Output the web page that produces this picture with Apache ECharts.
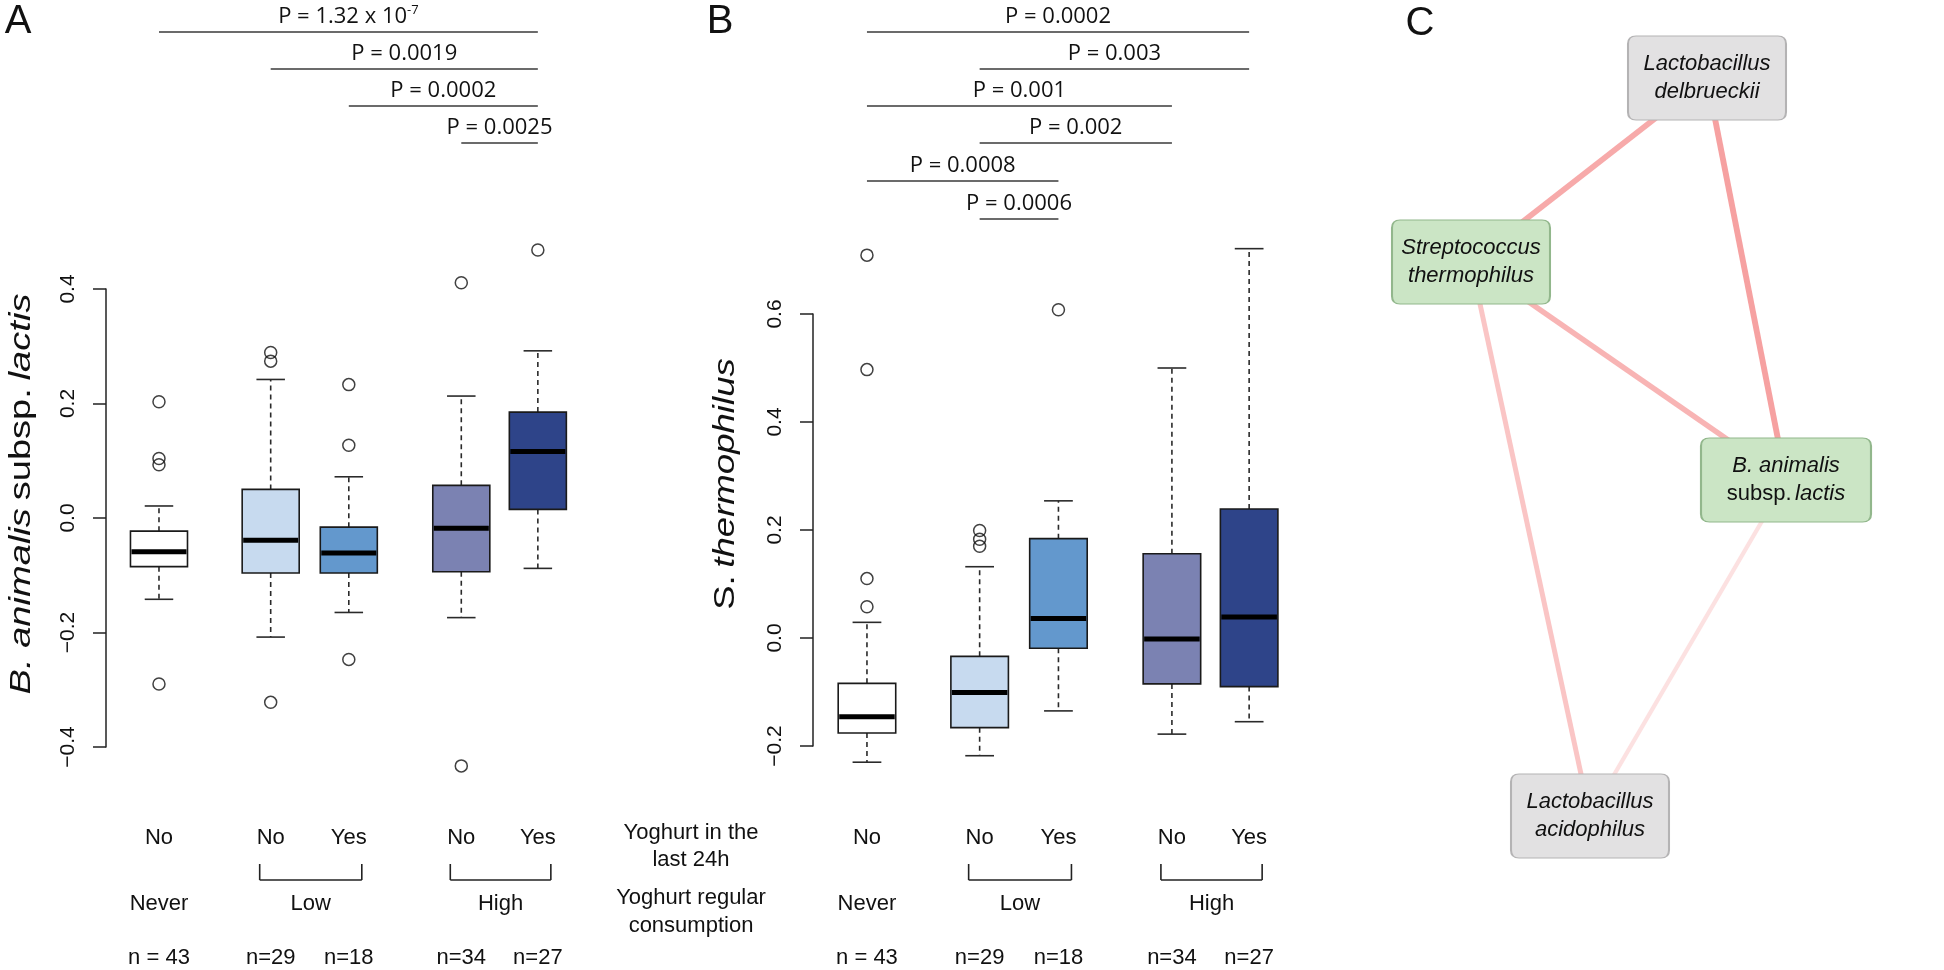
<!DOCTYPE html>
<html><head><meta charset="utf-8">
<script src="https://cdn.jsdelivr.net/npm/echarts@6/dist/echarts.min.js"></script>
<style>html,body{margin:0;padding:0;background:#fff;} #c{width:1944px;height:970px;}</style>
</head><body><div id="c"></div>
<script>
// ================= DATA =================
const dayLabels = ['No', 'No', 'Yes', 'No', 'Yes'];
const consumptionLabels = ['Never', 'Low', 'High'];
const consumptionMembers = [[0], [1, 2], [3, 4]];
const nLabels = ['n = 43', 'n=29', 'n=18', 'n=34', 'n=27'];

// [lower whisker, Q1, median, Q3, upper whisker]
const statsA = [
  [-0.142, -0.085, -0.059, -0.023, 0.021],
  [-0.208, -0.096, -0.039, 0.050, 0.242],
  [-0.165, -0.096, -0.061, -0.016, 0.072],
  [-0.174, -0.094, -0.018, 0.057, 0.213],
  [-0.088, 0.015, 0.116, 0.185, 0.292]
];
const outliersA = [
  [0.203, 0.104, 0.093, -0.290],
  [0.289, 0.274, -0.322],
  [0.233, 0.127, -0.247],
  [0.411, -0.433],
  [0.468]
];
const statsB = [
  [-0.230, -0.176, -0.146, -0.084, 0.029],
  [-0.218, -0.166, -0.101, -0.034, 0.132],
  [-0.135, -0.019, 0.036, 0.184, 0.254],
  [-0.178, -0.085, -0.002, 0.156, 0.500],
  [-0.155, -0.090, 0.039, 0.239, 0.721]
];
const outliersB = [
  [0.709, 0.497, 0.110, 0.058],
  [0.199, 0.183, 0.170],
  [0.608],
  [],
  []
];
const ticksA = [-0.4, -0.2, 0.0, 0.2, 0.4];
const ticksB = [-0.2, 0.0, 0.2, 0.4, 0.6];

const pFromA = [0, 1, 2, 3];
const pToA = [4, 4, 4, 4];
const pTextA = ['P = 1.32 x 10', 'P = 0.0019', 'P = 0.0002', 'P = 0.0025'];
const pSupA = ['-7', '', '', ''];
const pFromB = [0, 1, 0, 1, 0, 1];
const pToB = [4, 4, 3, 3, 2, 2];
const pTextB = ['P = 0.0002', 'P = 0.003', 'P = 0.001', 'P = 0.002', 'P = 0.0008', 'P = 0.0006'];

const nodeNames = ['Lactobacillus delbrueckii', 'Streptococcus thermophilus', 'B. animalis subsp. lactis', 'Lactobacillus acidophilus'];
const nodeX = [357, 121, 436, 240];
const nodeY = [78, 262, 480, 816];
const nodeIsYoghurt = [false, true, true, false];
const edgeSource = [0, 0, 1, 1, 2];
const edgeTarget = [1, 2, 2, 3, 3];
const edgeWeight = [0.73, 0.80, 0.64, 0.50, 0.26];

// ================= LAYOUT / STYLE =================
const FONT = '"Liberation Sans", Arial, sans-serif';
const PFONT = '"Open Sans", "Liberation Sans", sans-serif';
const posX = [1, 2.43, 3.43, 4.87, 5.85];
const boxColors = ['#ffffff', '#c7daef', '#6398cd', '#7b82b2', '#2e4489'];
const pRowY = [32, 69, 106, 143, 181, 219];
const rowDayY = 838, bracketTop = 864, bracketBot = 880, rowConsY = 904, rowNY = 958;

const chart = echarts.init(document.getElementById('c'));

function fmtTick(v) { return (v < 0 ? '\u2212' : '') + Math.abs(v).toFixed(1); }

function boxSeries(stats, xi, yi) {
  return {
    type: 'custom', xAxisIndex: xi, yAxisIndex: yi, silent: true,
    data: stats.map((s, i) => [posX[i], s[0], s[1], s[2], s[3], s[4], i]),
    encode: { x: 0, y: [1, 2, 3, 4, 5] },
    renderItem(params, api) {
      const p = api.value(0);
      const c = v => api.coord([p, v]);
      const cx = c(api.value(1))[0];
      const yMin = c(api.value(1))[1], yQ1 = c(api.value(2))[1], yMed = c(api.value(3))[1],
            yQ3 = c(api.value(4))[1], yMax = c(api.value(5))[1];
      const w = api.size([0.73, 0])[0];
      const cap = w / 4;
      const ws = { stroke: '#2a2a2a', lineWidth: 1.6, lineDash: [5, 4] };
      const cs = { stroke: '#2a2a2a', lineWidth: 1.6 };
      return { type: 'group', children: [
        { type: 'line', shape: { x1: cx, y1: yQ3, x2: cx, y2: yMax }, style: ws },
        { type: 'line', shape: { x1: cx, y1: yQ1, x2: cx, y2: yMin }, style: ws },
        { type: 'line', shape: { x1: cx - cap, y1: yMax, x2: cx + cap, y2: yMax }, style: cs },
        { type: 'line', shape: { x1: cx - cap, y1: yMin, x2: cx + cap, y2: yMin }, style: cs },
        { type: 'rect', shape: { x: cx - w / 2, y: yQ3, width: w, height: yQ1 - yQ3 },
          style: { fill: boxColors[api.value(6)], stroke: '#1a1a1a', lineWidth: 1.6 } },
        { type: 'line', shape: { x1: cx - w / 2 + 1, y1: yMed, x2: cx + w / 2 - 1, y2: yMed },
          style: { stroke: '#000', lineWidth: 5 } }
      ]};
    }
  };
}
function outlierSeries(out, xi, yi) {
  const d = [];
  out.forEach((arr, i) => arr.forEach(v => d.push([posX[i], v])));
  return { type: 'scatter', xAxisIndex: xi, yAxisIndex: yi, data: d, symbol: 'circle', symbolSize: 12, silent: true,
    itemStyle: { color: 'rgba(255,255,255,0)', borderColor: '#111', borderWidth: 1.5 } };
}
function axisY(gi, ticks) {
  return { gridIndex: gi, type: 'value', min: ticks[0], max: ticks[ticks.length - 1], interval: 0.2,
    axisLine: { show: true, lineStyle: { color: '#222', width: 1.5 } },
    axisTick: { show: true, length: 13, lineStyle: { color: '#222', width: 1.5 }, customValues: ticks },
    axisLabel: { rotate: 90, fontSize: 21, fontFamily: FONT, color: '#111', margin: 27, formatter: fmtTick, customValues: ticks },
    splitLine: { show: false } };
}
const hidden = gi => ({ gridIndex: gi, type: 'value', show: false, splitLine: { show: false } });

const roundRect = 'path://M8,0H150Q158,0 158,8V76Q158,84 150,84H8Q0,84 0,76V8Q0,0 8,0Z';
const nodeLabel = [
  '{i|Lactobacillus}\n{i|delbrueckii}',
  '{i|Streptococcus}\n{i|thermophilus}',
  '{i|B. animalis}\n{n|subsp.} {i|lactis}',
  '{i|Lactobacillus}\n{i|acidophilus}'
];
function edgeColor(w) {
  const r = Math.round(255 - w * (255 - 244)), g = Math.round(255 - w * (255 - 138));
  return `rgb(${r},${g},${g})`;
}

chart.setOption({
  animation: false,
  backgroundColor: '#fff',
  grid: [
    { left: 104.3, top: 231.75, width: 468.7, height: 572.5 },
    { left: 106, top: 289, width: 10, height: 458 },
    { left: 811.8, top: 206, width: 472.8, height: 594 },
    { left: 813, top: 314, width: 10, height: 432 },
    { left: 1350, top: 0, width: 594, height: 970 }
  ],
  xAxis: [
    { gridIndex: 0, type: 'value', min: 0.3, max: 6.3, show: false },
    hidden(1),
    { gridIndex: 2, type: 'value', min: 0.3, max: 6.3, show: false },
    hidden(3),
    { gridIndex: 4, type: 'value', min: 0, max: 594, show: false }
  ],
  yAxis: [
    { gridIndex: 0, type: 'value', min: -0.5, max: 0.5, show: false },
    axisY(1, ticksA),
    { gridIndex: 2, type: 'value', min: -0.3, max: 0.8, show: false },
    axisY(3, ticksB),
    { gridIndex: 4, type: 'value', min: 0, max: 970, inverse: true, show: false }
  ],
  series: [
    boxSeries(statsA, 0, 0), outlierSeries(outliersA, 0, 0),
    boxSeries(statsB, 2, 2), outlierSeries(outliersB, 2, 2),
    {
      type: 'graph', layout: 'none', coordinateSystem: 'cartesian2d', xAxisIndex: 4, yAxisIndex: 4,
      silent: true,
      data: nodeNames.map((n, i) => ({
        name: n, value: [nodeX[i], nodeY[i]], symbol: roundRect,
        symbolSize: i === 2 ? [170, 84] : [158, 84],
        itemStyle: nodeIsYoghurt[i]
          ? { color: '#cbe5c5', borderColor: '#92b78c', borderWidth: 1.5 }
          : { color: '#e2e1e2', borderColor: '#b4b3b4', borderWidth: 1.5 },
        label: { show: true, position: 'inside', formatter: nodeLabel[i] }
      })),
      label: {
        rich: {
          i: { fontStyle: 'italic', fontSize: 22, fontFamily: FONT, color: '#111', lineHeight: 28 },
          n: { fontStyle: 'normal', fontSize: 22, fontFamily: FONT, color: '#111', lineHeight: 28 }
        }
      },
      links: edgeSource.map((s, k) => ({
        source: s, target: edgeTarget[k],
        lineStyle: { color: edgeColor(edgeWeight[k]), width: 3.5 + 3 * edgeWeight[k], opacity: 1, curveness: 0 }
      }))
    }
  ]
});

// ================= ANNOTATIONS (positions via the chart's own scales) =================
const g = [];
const px = (gi, i) => chart.convertToPixel({ gridIndex: gi }, [posX[i], 0])[0];
function addText(x, y, text, opts) {
  g.push({ type: 'text', x, y, silent: true, z: 10, ...(opts && opts.el),
    style: Object.assign({ text, fontSize: 22, fontFamily: FONT, fill: '#111', align: 'center', verticalAlign: 'middle' }, opts && opts.style) });
}
function addLine(x1, y1, x2, y2, stroke) {
  g.push({ type: 'line', silent: true, shape: { x1, y1, x2, y2 }, style: { stroke: stroke || '#333', lineWidth: 1.6 } });
}
function pLines(gi, from, to, texts, sups) {
  from.forEach((f, k) => {
    const x1 = px(gi, f), x2 = px(gi, to[k]);
    addLine(x1, pRowY[k], x2, pRowY[k], '#3a3a3a');
    const sup = sups && sups[k];
    const t = sup ? `{m|${texts[k]}}{s|${sup}}` : `{m|${texts[k]}}`;
    addText((x1 + x2) / 2, pRowY[k] - 15, t, { style: { fontFamily: PFONT, rich: {
      m: { fontSize: 22, fontFamily: PFONT, fill: '#111', lineHeight: 26 },
      s: { fontSize: 13, fontFamily: PFONT, fill: '#111', verticalAlign: 'top', lineHeight: 26 } } } });
  });
}
function bottomLabels(gi) {
  dayLabels.forEach((t, i) => addText(px(gi, i), rowDayY, t));
  nLabels.forEach((t, i) => addText(px(gi, i), rowNY, t));
  consumptionMembers.forEach((m, j) => {
    const xs = m.map(i => px(gi, i));
    if (m.length > 1) {
      const l = xs[0] - 11, r = xs[xs.length - 1] + 13;
      addLine(l, bracketTop, l, bracketBot, '#222');
      addLine(l, bracketBot, r, bracketBot, '#222');
      addLine(r, bracketTop, r, bracketBot, '#222');
      addText((l + r) / 2, rowConsY, consumptionLabels[j]);
    } else {
      addText(xs[0], rowConsY, consumptionLabels[j]);
    }
  });
}
pLines(0, pFromA, pToA, pTextA, pSupA);
pLines(2, pFromB, pToB, pTextB);
bottomLabels(0);
bottomLabels(2);

const midX = 691;
addText(midX, 833, 'Yoghurt in the');
addText(midX, 860, 'last 24h');
addText(midX, 898, 'Yoghurt regular');
addText(midX, 926, 'consumption');

// panel letters
addText(18, 22, 'A', { style: { fontSize: 40 } });
addText(720, 22, 'B', { style: { fontSize: 40 } });
addText(1420, 24, 'C', { style: { fontSize: 40 } });

// axis titles (rotated)
const titleRich = {
  i: { fontStyle: 'italic', fontSize: 30, fontFamily: FONT, fill: '#111' },
  n: { fontStyle: 'normal', fontSize: 30, fontFamily: FONT, fill: '#111' }
};
addText(22, 494, '{i|B. animalis} {n|subsp.} {i|lactis}', { el: { rotation: Math.PI / 2, scaleX: 1.27 }, style: { rich: titleRich } });
addText(726, 484, '{n|S.} {i|thermophilus}', { el: { rotation: Math.PI / 2, scaleX: 1.22 }, style: { rich: titleRich } });

chart.setOption({ graphic: { elements: g } });
</script></body></html>
